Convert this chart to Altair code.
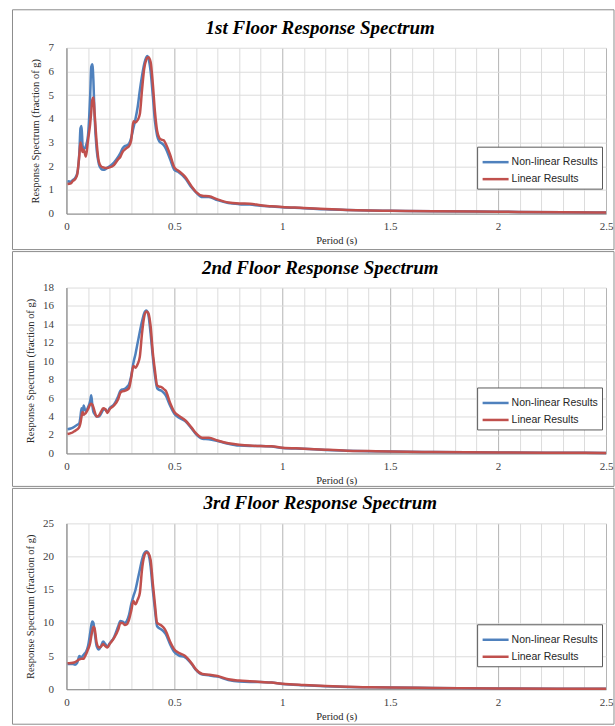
import altair as alt
import pandas as pd

# Periods (s) shared by every spectrum
PERIOD = [0.005, 0.02, 0.03, 0.04, 0.05, 0.06, 0.065, 0.07, 0.075, 0.08,
          0.085, 0.09, 0.1, 0.11, 0.115, 0.12, 0.125, 0.13, 0.14, 0.15,
          0.16, 0.17, 0.18, 0.19, 0.2, 0.22, 0.24, 0.25, 0.26, 0.27,
          0.28, 0.29, 0.3, 0.31, 0.32, 0.33, 0.34, 0.35, 0.36, 0.37,
          0.375, 0.38, 0.39, 0.4, 0.41, 0.42, 0.43, 0.44, 0.45, 0.46,
          0.48, 0.5, 0.52, 0.55, 0.58, 0.6, 0.63, 0.66, 0.7, 0.75,
          0.8, 0.85, 0.9, 0.95, 1.0, 1.1, 1.2, 1.3, 1.4, 1.5,
          1.7, 2.0, 2.3, 2.5]

# 1st floor spectra (fraction of g)
F1_NONLINEAR = [1.37, 1.35, 1.42, 1.5, 1.7, 2.6, 3.6, 3.7, 2.85, 2.75,
                2.75, 2.85, 3.3, 5.0, 6.2, 6.3, 5.6, 4.2, 2.7, 2.1,
                1.9, 1.85, 1.87, 1.95, 2.0, 2.15, 2.4, 2.55, 2.75, 2.85,
                2.88, 2.95, 3.2, 3.6, 4.0, 4.5, 5.2, 5.8, 6.3, 6.6,
                6.65, 6.55, 6.0, 5.0, 3.9, 3.3, 3.05, 2.98, 2.9, 2.75,
                2.3, 1.85, 1.75, 1.5, 1.1, 0.9, 0.7, 0.7, 0.57, 0.45,
                0.4, 0.38, 0.33, 0.3, 0.27, 0.23, 0.18, 0.15, 0.13, 0.12,
                0.1, 0.08, 0.06, 0.05]
F1_LINEAR = [1.25, 1.28, 1.38, 1.45, 1.65, 2.5, 3.0, 2.8, 2.6, 2.7,
             2.55, 2.4, 3.1, 3.8, 4.3, 4.8, 4.9, 4.3, 3.0, 2.2,
             2.0, 1.95, 1.93, 1.93, 1.95, 2.05, 2.3, 2.4, 2.6, 2.7,
             2.78, 2.85, 3.1, 3.9, 3.85, 3.95, 4.2, 5.2, 6.1, 6.5,
             6.58, 6.6, 6.4, 5.5, 4.3, 3.5, 3.2, 3.12, 3.1, 2.95,
             2.5, 1.95, 1.8, 1.55, 1.15, 0.92, 0.75, 0.73, 0.6, 0.47,
             0.43, 0.42, 0.35, 0.31, 0.28, 0.24, 0.19, 0.15, 0.13, 0.12,
             0.1, 0.08, 0.06, 0.05]

# 2nd floor spectra
F2_NONLINEAR = [2.63, 2.7, 2.8, 2.95, 3.1, 3.3, 4.0, 4.9, 4.5, 5.2,
                4.8, 4.6, 5.0, 5.7, 6.3, 5.2, 4.5, 4.3, 4.0, 4.0,
                4.3, 4.7, 4.8, 4.5, 4.9, 5.3, 6.2, 6.8, 6.95, 7.0,
                7.2, 7.5, 8.4, 9.8, 10.8, 12.0, 13.2, 14.3, 15.2, 15.5,
                15.4, 15.0, 13.0, 10.5, 8.5, 7.1, 6.9, 6.8, 6.6, 6.3,
                5.2, 4.3, 3.9, 3.5, 2.7, 2.1, 1.6, 1.55, 1.35, 1.05,
                0.85, 0.8, 0.8, 0.75, 0.6, 0.5, 0.38, 0.3, 0.24, 0.2,
                0.15, 0.1, 0.07, 0.05]
F2_LINEAR = [2.1, 2.2, 2.3, 2.45, 2.6, 2.9, 3.3, 4.0, 4.5, 4.2,
             4.3, 4.4, 4.8, 5.3, 5.4, 5.3, 5.0, 4.6, 4.0, 4.1,
             4.5, 4.9, 4.8, 4.4, 4.8, 5.2, 5.9, 6.6, 6.75, 6.8,
             6.9, 7.1, 8.2, 9.5, 9.3, 9.7, 10.5, 13.0, 14.8, 15.4,
             15.35, 15.2, 13.8, 11.0, 9.0, 7.4, 7.25, 7.2, 7.0, 6.8,
             5.5, 4.5, 4.1, 3.6, 2.8, 2.2, 1.7, 1.7, 1.4, 1.1,
             0.95, 0.85, 0.8, 0.78, 0.62, 0.52, 0.4, 0.3, 0.25, 0.2,
             0.15, 0.1, 0.07, 0.05]

# 3rd floor spectra
F3_NONLINEAR = [3.8, 3.8, 3.8, 3.7, 4.0, 5.0, 4.9, 4.8, 5.0, 5.2,
                5.4, 5.6, 6.5, 8.5, 9.6, 10.2, 10.0, 8.8, 6.5, 6.0,
                6.5, 7.2, 6.8, 6.4, 6.9, 7.8, 9.5, 10.3, 10.2, 10.0,
                10.3, 11.2, 12.8, 14.0, 15.0, 16.5, 18.0, 19.5, 20.5, 20.8,
                20.7, 20.4, 18.5, 15.0, 12.0, 9.5, 9.2, 9.0, 8.7, 8.3,
                6.8, 5.6, 5.1, 4.8, 3.8, 2.9, 2.2, 2.1, 1.9, 1.4,
                1.15, 1.1, 1.1, 1.0, 0.8, 0.6, 0.45, 0.35, 0.3, 0.25,
                0.2, 0.12, 0.08, 0.06]
F3_LINEAR = [3.9, 3.95, 4.0, 4.1, 4.3, 4.5, 4.55, 4.6, 4.6, 4.6,
             4.9, 5.2, 6.0, 7.0, 8.0, 8.8, 9.4, 9.2, 7.0, 6.3,
             6.4, 6.8, 6.5, 6.3, 6.8, 7.7, 9.0, 10.0, 10.0, 9.7,
             9.8, 10.5, 11.8, 13.3, 12.8, 13.5, 14.5, 18.0, 20.0, 20.6,
             20.6, 20.5, 19.5, 16.0, 12.8, 10.0, 9.8, 9.6, 9.3, 8.8,
             7.2, 6.0, 5.5, 5.0, 3.9, 3.0, 2.3, 2.2, 2.0, 1.5,
             1.3, 1.2, 1.1, 1.0, 0.82, 0.62, 0.47, 0.36, 0.3, 0.25,
             0.2, 0.12, 0.08, 0.06]

SERIES = ["Non-linear Results", "Linear Results"]
COLORS = ["#4F81BD", "#C0504D"]
X_GRID = [round(i / 10, 1) for i in range(26)]

SERIF = "Liberation Serif"
SANS = "Liberation Sans"
HALF_STEP = "abs(datum.value * 2 - round(datum.value * 2)) < 0.001"

PLOT_W = 540
PLOT_H = 166


def floor_panel(title, nonlinear, linear, y_max, y_step, frame, legend_xy):
    rows = []
    for name, values in zip(SERIES, (nonlinear, linear)):
        for p, v in zip(PERIOD, values):
            rows.append({"period": p, "response": v, "series": name})
    df = pd.DataFrame(rows)

    x_axis = alt.Axis(
        values=X_GRID,
        labelExpr=f"{HALF_STEP} ? format(datum.value, '~g') : ''",
        labelFlush=False,
        labelOverlap=False,
        gridColor={"condition": {"test": HALF_STEP, "value": "#b4b4b4"}, "value": "#dcdcdc"},
        ticks=False,
        tickSize=0,
        labelPadding=7,
        titlePadding=4,
    )
    y_axis = alt.Axis(
        values=list(range(0, y_max + 1, y_step)),
        ticks=False,
        tickSize=0,
        labelPadding=13,
        titlePadding=7,
    )

    lines = alt.Chart(df).mark_line(strokeWidth=2.5, interpolate="monotone").encode(
        x=alt.X("period:Q", title="Period (s)",
                scale=alt.Scale(domain=[0, 2.5], nice=False, zero=False), axis=x_axis),
        y=alt.Y("response:Q", title="Response Spectrum (fraction of g)",
                scale=alt.Scale(domain=[0, y_max], nice=False), axis=y_axis),
        color=alt.Color(
            "series:N",
            sort=SERIES,
            scale=alt.Scale(domain=SERIES, range=COLORS),
            legend=alt.Legend(
                title=None,
                orient="none",
                legendX=legend_xy[0],
                legendY=legend_xy[1],
                direction="vertical",
                strokeColor="#595959",
                fillColor="white",
                padding=4,
                symbolType="M-1,0H1.6",
                symbolStrokeWidth=2.5,
                symbolSize=400,
                labelFont=SANS,
                labelFontSize=10.5,
                labelColor="#262626",
                labelOffset=7.5,
                rowPadding=0,
            ),
        ),
    )

    fx, fx2, fy, fy2 = frame
    border = alt.Chart(pd.DataFrame({"k": [0]})).mark_rect(
        fill="transparent", stroke="#8c8c8c", strokeWidth=1
    ).encode(x=alt.value(fx), x2=alt.value(fx2), y=alt.value(fy), y2=alt.value(fy2))

    heading = alt.Chart(pd.DataFrame({"label": [title]})).mark_text(
        font=SERIF, fontSize=19, fontStyle="italic", fontWeight="bold",
        color="#000000", align="center", baseline="middle",
    ).encode(text="label:N", x=alt.value(PLOT_W / 2 - 16), y=alt.value(-20))

    return alt.layer(border, heading, lines).properties(width=PLOT_W, height=PLOT_H)


p1 = floor_panel("1st Floor Response Spectrum", F1_NONLINEAR, F1_LINEAR, 7, 1,
                 (-54, 548, -38, 202), (411, 99))
p2 = floor_panel("2nd Floor Response Spectrum", F2_NONLINEAR, F2_LINEAR, 18, 2,
                 (-54, 548, -36, 199), (411, 100))
p3 = floor_panel("3rd Floor Response Spectrum", F3_NONLINEAR, F3_LINEAR, 25, 5,
                 (-54, 548, -35, 201), (411, 101))

chart = (
    alt.vconcat(p1, p2, p3, spacing=0, bounds="full")
    .resolve_scale(x="independent", y="independent", color="independent")
    .resolve_legend(color="independent")
    .properties(padding={"left": 11.5, "top": 8.5, "right": 0, "bottom": 0}, background="white")
    .configure_view(stroke="transparent")
    .configure_axis(
        domainColor="#868686",
        gridColor="#dcdcdc",
        labelFont=SERIF,
        labelFontSize=11,
        labelColor="#404040",
        titleFont=SERIF,
        titleFontSize=10.5,
        titleFontWeight="normal",
        titleColor="#262626",
    )
)

chart.save("out.html", embed_options={"renderer": "svg", "actions": False})
